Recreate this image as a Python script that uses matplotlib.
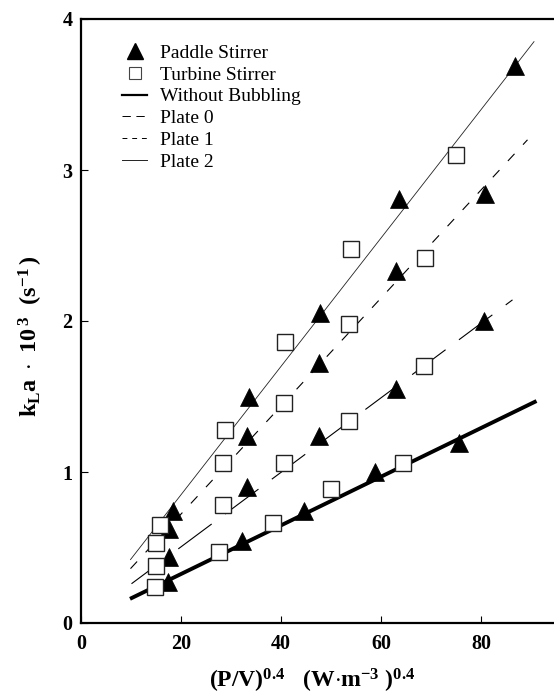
import matplotlib
matplotlib.use("Agg")
import matplotlib.pyplot as plt
from matplotlib.lines import Line2D

# ---- data ----
paddle_x = [17.3, 17.6, 17.6, 18.3, 32.1, 33.1, 33.1, 33.5, 44.6, 47.5, 47.6,
            47.8, 58.7, 62.9, 63.0, 63.5, 75.5, 80.6, 80.8, 86.7]
paddle_y = [0.27, 0.44, 0.62, 0.74, 0.54, 0.90, 1.24, 1.50, 0.74, 1.24, 1.72,
            2.05, 1.00, 1.55, 2.33, 2.81, 1.19, 2.00, 2.84, 3.69]

turbine_x = [14.7, 14.9, 14.9, 15.8, 27.5, 28.3, 28.3, 28.7, 38.3, 40.6, 40.6,
             40.8, 49.9, 53.6, 53.6, 53.9, 64.3, 68.6, 68.7, 75.0]
turbine_y = [0.24, 0.38, 0.53, 0.65, 0.47, 0.78, 1.06, 1.28, 0.66, 1.06, 1.46,
             1.86, 0.89, 1.34, 1.98, 2.48, 1.06, 1.70, 2.42, 3.10]

# fitted lines (end points)
nobubble_x = [9.8, 91.1]
nobubble_y = [0.16, 1.47]
plate0_x = [10.1, 86.3]
plate0_y = [0.26, 2.14]
plate1_x = [9.9, 89.3]
plate1_y = [0.36, 3.20]
plate2_x = [9.9, 90.6]
plate2_y = [0.42, 3.85]

xticks = [0, 20, 40, 60, 80]
yticks = [0, 1, 2, 3, 4]
legend_labels = ['Paddle Stirrer', 'Turbine Stirrer', 'Without Bubbling',
                 'Plate 0', 'Plate 1', 'Plate 2']

plt.rcParams['font.family'] = ['Liberation Serif', 'DejaVu Serif']
plt.rcParams['mathtext.fontset'] = 'custom'
plt.rcParams['mathtext.rm'] = 'Liberation Serif:bold'
plt.rcParams['mathtext.bf'] = 'Liberation Serif:bold'
plt.rcParams['mathtext.it'] = 'Liberation Serif:italic:bold'
plt.rcParams['lines.scale_dashes'] = False

fig = plt.figure(figsize=(5.54, 6.96), dpi=100)
ax = fig.add_axes([81/554, 73/696, 500/554, 604/696])

ax.plot(nobubble_x, nobubble_y, color='black', lw=2.8, solid_capstyle='butt', zorder=2)
ax.plot(plate0_x, plate0_y, color='black', lw=0.8, dashes=(30, 12), zorder=2)
ax.plot(plate1_x, plate1_y, color='black', lw=0.8, dashes=(7, 9), zorder=2)
ax.plot(plate2_x, plate2_y, color='#222222', lw=0.6, zorder=2)

ax.plot(paddle_x, paddle_y, ls='none', marker='^', ms=12.5, mfc='black',
        mec='black', mew=0.5, zorder=3)
ax.plot(turbine_x, turbine_y, ls='none', marker='s', ms=11.5, mfc='white',
        mec='#222222', mew=1.0, zorder=3)

ax.set_xlim(0, 100)
ax.set_ylim(0, 4)
ax.set_xticks(xticks)
ax.set_yticks(yticks)
ax.set_xticklabels([str(v) for v in xticks], fontsize=14.5, fontweight='bold')
ax.set_yticklabels([str(v) for v in yticks], fontsize=14.5, fontweight='bold')
ax.tick_params(direction='in', length=5, width=0.8)
ax.tick_params(axis='x', pad=8)
ax.tick_params(axis='y', pad=6)

for s in ['left', 'bottom', 'top']:
    ax.spines[s].set_linewidth(1.6)
ax.spines['right'].set_visible(False)

ax.set_xlabel(r'$\mathrm{(P/V)^{0.4}\ \ \ (W{\cdot}m^{-3}\ )^{0.4}}$', fontsize=17)
ax.xaxis.label.set_va('center')
ax.xaxis.set_label_coords((312 - 81) / 500, (623 - 681) / 604)

ax.set_ylabel(r'$\mathrm{k_{L}a\ \cdot\ 10^{\,3}\ \ (s^{-1}\,)}$', fontsize=17.5)
ax.yaxis.label.set_va('center')
ax.yaxis.set_label_coords((31 - 81) / 500, (623 - 336) / 604)

# legend handles (styles as drawn in the reference legend)
h_paddle = Line2D([], [], ls='none', marker='^', ms=11, mfc='black', mec='black')
h_turbine = Line2D([], [], ls='none', marker='s', ms=9, mfc='white',
                   mec='#444444', mew=0.8)
h_nob = Line2D([], [], color='black', lw=1.6)
h_p0 = Line2D([], [], color='black', lw=0.7, dashes=(6, 4))
h_p1 = Line2D([], [], color='black', lw=0.7, dashes=(3.5, 3.5))
h_p2 = Line2D([], [], color='#222222', lw=0.7)
leg = fig.legend([h_paddle, h_turbine, h_nob, h_p0, h_p1, h_p2], legend_labels,
                 loc='upper left', bbox_to_anchor=(122/554, 1 - 44/696),
                 frameon=False, fontsize=14, numpoints=1, handlelength=1.3,
                 handletextpad=0.65, labelspacing=0.22, borderpad=0,
                 borderaxespad=0)

fig.savefig('out.png', dpi=100)
